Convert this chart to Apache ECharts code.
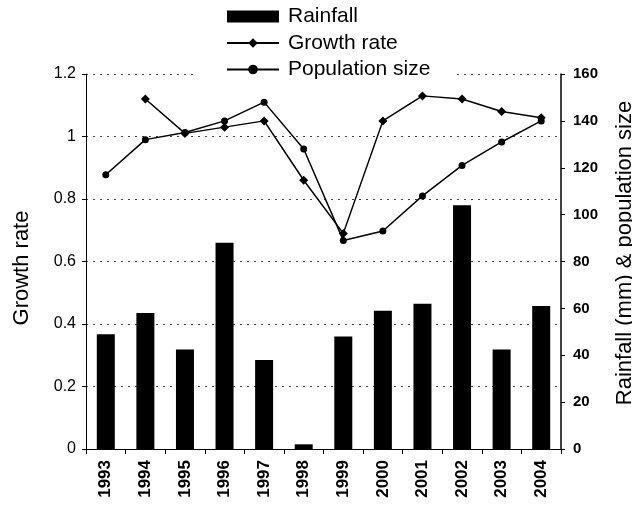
<!DOCTYPE html>
<html>
<head>
<meta charset="utf-8">
<script src="https://cdn.jsdelivr.net/npm/echarts@6/dist/echarts.min.js"></script>
<style>
  html, body { margin: 0; padding: 0; background: #fff; }
  #chart { width: 632px; height: 506px; }
</style>
</head>
<body>
<div id="chart"></div>
<script>
// Yearly series: rainfall (mm), growth rate, population size
const years = ['1993', '1994', '1995', '1996', '1997', '1998', '1999', '2000', '2001', '2002', '2003', '2004'];
const rainfall = [49, 58, 42.5, 88, 38, 2, 48, 59, 62, 104, 42.5, 61];
const growthRate = [null, 1.12, 1.01, 1.03, 1.05, 0.86, 0.69, 1.05, 1.13, 1.12, 1.08, 1.06];
const populationSize = [117, 132, 135, 140, 148, 128, 89, 93, 108, 121, 131, 140];

const FONT = '"Liberation Sans", Arial, sans-serif';

const chart = echarts.init(document.getElementById('chart'), null, { renderer: 'canvas' });

chart.setOption({
  animation: false,
  backgroundColor: '#fff',
  textStyle: { fontFamily: FONT, color: '#000' },
  grid: { left: 86, right: 71, top: 74, bottom: 57, containLabel: false, outerBoundsMode: 'none' },
  legend: {
    orient: 'vertical',
    left: 197,
    top: 3,
    padding: [3, 24, 3, 29],
    backgroundColor: '#fff',
    itemWidth: 52,
    itemHeight: 12,
    itemGap: 5.5,
    textStyle: { fontFamily: FONT, fontSize: 21, color: '#000', padding: [0, 0, 0, 4] },
    data: [
      { name: 'Rainfall', icon: 'rect' },
      { name: 'Growth rate' },
      { name: 'Population size' }
    ]
  },
  xAxis: {
    type: 'category',
    data: years,
    boundaryGap: true,
    axisLine: { lineStyle: { color: '#000', width: 1 } },
    axisTick: { show: true, length: 5, lineStyle: { color: '#000' } },
    axisLabel: {
      rotate: 90,
      margin: 11,
      fontFamily: FONT,
      fontSize: 17,
      fontWeight: 'bold',
      color: '#000'
    }
  },
  yAxis: [
    {
      type: 'value',
      min: 0,
      max: 1.2,
      interval: 0.2,
      name: 'Growth rate',
      nameLocation: 'middle',
      nameGap: 53,
      nameRotate: 90,
      nameTextStyle: { fontFamily: FONT, fontSize: 22, color: '#000', padding: [0, 13, 0, 0] },
      axisLine: { show: true, lineStyle: { color: '#000', width: 1 } },
      axisTick: { show: true, length: 4, lineStyle: { color: '#000' } },
      axisLabel: { fontFamily: FONT, fontSize: 16, color: '#000', margin: 10 },
      splitLine: { show: true, lineStyle: { color: '#444', type: [2, 5], width: 1 } }
    },
    {
      type: 'value',
      min: 0,
      max: 160,
      interval: 20,
      position: 'right',
      name: 'Rainfall (mm) & population size',
      nameLocation: 'middle',
      nameGap: 53,
      nameRotate: 90,
      nameTextStyle: { fontFamily: FONT, fontSize: 22, color: '#000', padding: [0, 0, 0, 17] },
      axisLine: { show: true, lineStyle: { color: '#000', width: 1.5 } },
      axisTick: { show: true, length: 4, lineStyle: { color: '#000' } },
      axisLabel: { fontFamily: FONT, fontSize: 15, fontWeight: 'bold', color: '#000', margin: 12 },
      splitLine: { show: false }
    }
  ],
  series: [
    {
      name: 'Rainfall',
      type: 'bar',
      yAxisIndex: 1,
      data: rainfall,
      barWidth: 18,
      itemStyle: { color: '#000' }
    },
    {
      name: 'Growth rate',
      type: 'line',
      yAxisIndex: 0,
      data: growthRate,
      symbol: 'diamond',
      symbolSize: 9,
      lineStyle: { color: '#000', width: 1.5 },
      itemStyle: { color: '#000' },
      z: 3
    },
    {
      name: 'Population size',
      type: 'line',
      yAxisIndex: 1,
      data: populationSize,
      symbol: 'circle',
      symbolSize: 7,
      lineStyle: { color: '#000', width: 1.5 },
      itemStyle: { color: '#000' },
      z: 3
    }
  ]
});
</script>
</body>
</html>
